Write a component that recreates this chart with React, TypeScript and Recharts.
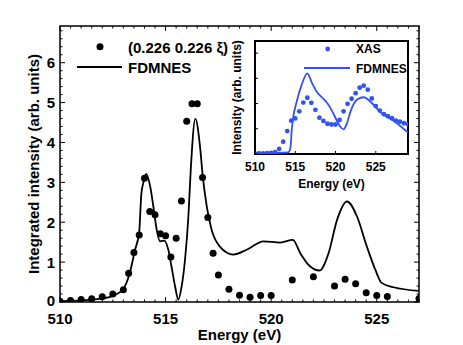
import { ComposedChart, Line, Scatter, XAxis, YAxis, ReferenceArea, Legend } from 'recharts';

// Main panel: measured resonant intensity (dots) and FDMNES calculation (line)
const dotEnergy = [
  510, 510.5, 511, 511.5, 512, 512.5, 513, 513.25, 513.5, 513.75, 514, 514.25, 514.5, 514.75,
  515, 515.25, 515.5, 515.75, 516, 516.25, 516.5, 516.75, 517, 517.25, 517.5, 518, 518.5,
  519, 519.5, 520, 521, 522, 523, 523.5, 524, 524.5, 525, 525.5, 527,
];
const dotIntensity = [
  0.02, 0.04, 0.06, 0.08, 0.13, 0.2, 0.31, 0.72, 1.24, 1.68, 3.1, 2.27, 2.19, 1.71,
  1.66, 1.13, 1.6, 2.53, 4.53, 4.97, 4.97, 3.12, 2.12, 1.22, 0.68, 0.32, 0.17,
  0.12, 0.16, 0.16, 0.55, 0.63, 0.4, 0.57, 0.46, 0.23, 0.16, 0.14, 0.09,
];
const fdmnesEnergy = [
  510, 511, 512, 512.5, 513, 513.3, 513.55, 513.75, 513.85, 513.95, 514.08, 514.27, 514.42,
  514.58, 514.74, 514.93, 515.13, 515.28, 515.45, 515.6, 515.76, 515.92, 516.08, 516.19,
  516.41, 516.63, 516.76, 516.95, 517.18, 517.57, 518.21, 518.84, 519.64, 520.43, 521.03,
  521.37, 521.85, 522.29, 522.72, 523.12, 523.59, 524.06, 524.53, 524.93, 525.23, 525.8, 527,
];
const fdmnesIntensity = [
  0.02, 0.04, 0.09, 0.15, 0.33, 0.72, 1.3, 1.75, 2.7, 3.0, 3.21, 2.9, 2.4,
  1.81, 1.52, 1.54, 1.31, 0.89, 0.39, 0.06, 0.39, 1.06, 2.15, 3.3,
  4.59, 3.9, 3.15, 2.4, 1.81, 1.39, 1.19, 1.31, 1.52, 1.49, 1.56,
  1.23, 0.89, 0.79, 1.23, 2.06, 2.52, 2.15, 1.39, 0.81, 0.48, 0.37, 0.28,
];

// Inset: XAS (dots) and FDMNES (line)
const xasEnergy = [
  510, 510.5, 511, 511.5, 512, 512.5, 513, 513.5, 514, 514.5, 515, 515.5, 516, 516.5, 517,
  517.5, 518, 518.5, 519, 519.5, 520, 520.5, 521, 521.5, 522, 522.5, 523, 523.5, 524, 524.5,
  525, 525.5, 526, 526.5, 527, 527.5, 528, 528.5, 529,
];
const xasIntensity = [
  0.01, 0.02, 0.02, 0.03, 0.04, 0.07, 0.2, 0.49, 0.91, 1.32, 1.41, 1.69, 2.04, 2.23, 2.03,
  1.75, 1.44, 1.31, 1.2, 1.17, 1.17, 1.35, 1.69, 1.99, 2.19, 2.41, 2.63, 2.71, 2.55, 2.2,
  1.9, 1.72, 1.58, 1.5, 1.42, 1.32, 1.28, 1.22, 1.18,
];
const xasCalcEnergy = [
  510, 512, 513.5, 514, 514.2, 514.4, 514.55, 514.7, 515.2, 515.8, 516.5, 517.1, 517.6,
  518.3, 518.9, 519.5, 520.2, 520.6, 521, 521.4, 521.9, 522.7, 523.5, 524.4, 525.6, 527.3, 529,
];
const xasCalcIntensity = [
  0.03, 0.04, 0.05, 0.06, 0.08, 0.25, 0.9, 1.35, 2.1, 2.75, 3.2, 2.8, 2.5,
  2.25, 2.05, 1.75, 1.3, 1.08, 0.98, 1.2, 1.72, 2.16, 2.25, 2.05, 1.65, 1.3, 0.85,
];

const mainXLabels = [510, 515, 520, 525];
const mainYLabels = [0, 1, 2, 3, 4, 5, 6];
const insetXLabels = [510, 515, 520, 525];
const insetYTicks = [0, 1, 2, 3, 4];

// minor tick marks (every 0.5 eV and 0.2 units)
const mainXTicks = Array.from({ length: 35 }, (_, i) => 510 + i * 0.5);
const mainYTicks = Array.from({ length: 35 }, (_, i) => (i * 2) / 10);

const zip = (e: number[], v: number[]) => e.map((x, i) => ({ e: x, v: v[i] }));
const dots = zip(dotEnergy, dotIntensity);
const fdmnes = zip(fdmnesEnergy, fdmnesIntensity);
const xas = zip(xasEnergy, xasIntensity);
const xasCalc = zip(xasCalcEnergy, xasCalcIntensity);

const FONT = '"Liberation Sans", Arial, Helvetica, sans-serif';
const BLUE = '#3152f5';

// plot-area edges, in chart pixels
const M = { left: 60, right: 419, top: 26, bottom: 302 };
const I = { left: 36, right: 189, top: 11, bottom: 124 };

const textProps = { fontFamily: FONT, fontWeight: 'bold', fill: '#000' } as const;

function MainXTick({ x, payload }: any) {
  const v = payload.value;
  const major = mainXLabels.includes(v);
  const len = major ? 5 : 2.5;
  return (
    <g>
      <line x1={x} x2={x} y1={M.bottom} y2={M.bottom - len} stroke="#000" />
      <line x1={x} x2={x} y1={M.top} y2={M.top + len} stroke="#000" />
      {major && (
        <text x={x} y={323.5} textAnchor="middle" fontSize={15} {...textProps}>
          {v}
        </text>
      )}
    </g>
  );
}

function MainYTick({ y, payload }: any) {
  const v = payload.value;
  const major = mainYLabels.includes(v);
  const len = major ? 5 : 2.5;
  return (
    <g>
      <line x1={M.left} x2={M.left + len} y1={y} y2={y} stroke="#000" />
      <line x1={M.right} x2={M.right - len} y1={y} y2={y} stroke="#000" />
      {major && (
        <text x={55} y={v === 0 ? y + 4 : y + 5.5} textAnchor="end" fontSize={15} {...textProps}>
          {v}
        </text>
      )}
    </g>
  );
}

function InsetXTick({ x, payload }: any) {
  return (
    <g>
      <line x1={x} x2={x} y1={I.bottom} y2={I.bottom - 3} stroke="#000" />
      <text x={x} y={140.5} textAnchor="middle" fontSize={12} {...textProps}>
        {payload.value}
      </text>
    </g>
  );
}

function InsetYTick({ y }: any) {
  return <line x1={I.left} x2={I.left + 3} y1={y} y2={y} stroke="#000" />;
}

const MainLegend = () => (
  <svg width={260} height={80} style={{ display: 'block', overflow: 'visible' }}>
    <circle cx={100} cy={46.7} r={3.5} fill="#000" />
    <text x={128} y={52.7} fontSize={15} {...textProps}>
      (0.226 0.226 ξ)
    </text>
    <line x1={77} x2={122} y1={67} y2={67} stroke="#000" strokeWidth={1.8} />
    <text x={128} y={73} fontSize={15} {...textProps}>
      FDMNES
    </text>
  </svg>
);

const InsetLegend = () => (
  <svg width={190} height={50} style={{ display: 'block', overflow: 'visible' }}>
    <circle cx={108.7} cy={19} r={2.4} fill={BLUE} />
    <text x={137} y={23} fontSize={12} {...textProps}>
      XAS
    </text>
    <line x1={85} x2={131} y1={38} y2={38} stroke={BLUE} strokeWidth={1.8} />
    <text x={137} y={42.6} fontSize={12} {...textProps}>
      FDMNES
    </text>
  </svg>
);

export default function App() {
  return (
    <div style={{ position: 'absolute', left: 0, top: 0, width: 463, height: 345, background: '#fff' }}>
      <ComposedChart width={463} height={345} margin={{ top: 26, right: 44, left: 7, bottom: 0 }}>
        <XAxis
          dataKey="e"
          type="number"
          domain={[510, 527]}
          allowDataOverflow
          ticks={mainXTicks}
          interval={0}
          tick={<MainXTick />}
          tickLine={false}
          axisLine={false}
          height={43}
          label={{ value: 'Energy (eV)', position: 'insideBottom', offset: 5, fontSize: 15, ...textProps }}
        />
        <YAxis
          dataKey="v"
          type="number"
          domain={[0, 6.92]}
          allowDataOverflow
          ticks={mainYTicks}
          interval={0}
          tick={<MainYTick />}
          tickLine={false}
          axisLine={false}
          width={53}
          label={{ value: 'Integrated intensity (arb. units)', angle: -90, position: 'center', fontSize: 15, ...textProps }}
        />
        <Line
          data={fdmnes}
          dataKey="v"
          type="monotone"
          stroke="#000"
          strokeWidth={1.8}
          dot={false}
          isAnimationActive={false}
        />
        <Scatter
          data={dots}
          dataKey="v"
          isAnimationActive={false}
          shape={(p: any) => <circle cx={p.cx} cy={p.cy} r={3.5} fill="#000" />}
        />
        <ReferenceArea x1={510} x2={527} y1={0} y2={6.92} fill="none" stroke="#000" strokeWidth={1.5} ifOverflow="visible" />
        <Legend
          content={MainLegend}
          layout="horizontal"
          verticalAlign="middle"
          align="center"
          wrapperStyle={{ left: 0, top: 0, width: 260, height: 80 }}
        />
      </ComposedChart>

      <div style={{ position: 'absolute', left: 219, top: 30 }}>
        <ComposedChart width={203} height={166} margin={{ top: 11, right: 14, left: 0, bottom: 0 }}>
          <XAxis
            dataKey="e"
            type="number"
            domain={[510, 529]}
            allowDataOverflow
            ticks={insetXLabels}
            interval={0}
            tick={<InsetXTick />}
            tickLine={false}
            axisLine={false}
            height={42}
            label={{ value: 'Energy (eV)', position: 'insideBottom', offset: 8, fontSize: 12, ...textProps }}
          />
          <YAxis
            dataKey="v"
            type="number"
            domain={[0, 4.48]}
            allowDataOverflow
            ticks={insetYTicks}
            interval={0}
            tick={<InsetYTick />}
            tickLine={false}
            axisLine={false}
            width={36}
            label={{ value: 'Intensity (arb. units)', angle: -90, position: 'center', fontSize: 12, ...textProps }}
          />
          <Line
            data={xasCalc}
            dataKey="v"
            type="monotone"
            stroke={BLUE}
            strokeWidth={1.8}
            dot={false}
            isAnimationActive={false}
          />
          <Scatter
            data={xas}
            dataKey="v"
            isAnimationActive={false}
            shape={(p: any) => <circle cx={p.cx} cy={p.cy} r={2.4} fill={BLUE} />}
          />
          <ReferenceArea x1={510} x2={529} y1={0} y2={4.48} fill="none" stroke="#000" strokeWidth={2} ifOverflow="visible" />
          <Legend
            content={InsetLegend}
            layout="horizontal"
            verticalAlign="middle"
            align="center"
            wrapperStyle={{ left: 0, top: 0, width: 190, height: 50 }}
          />
        </ComposedChart>
      </div>
    </div>
  );
}
